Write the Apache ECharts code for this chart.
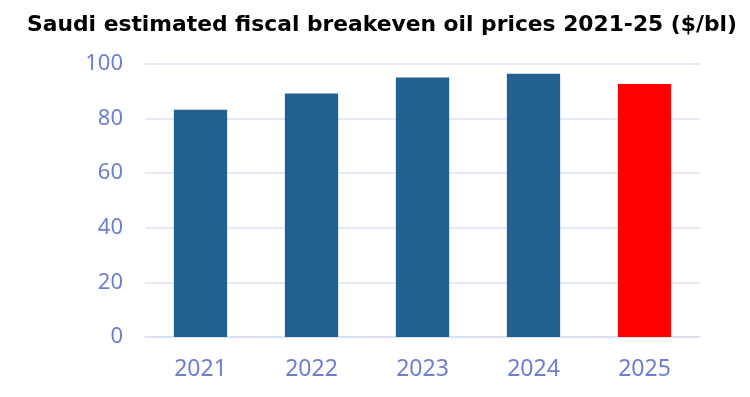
<!DOCTYPE html>
<html>
<head>
<meta charset="utf-8">
<script src="https://cdn.jsdelivr.net/npm/echarts@6/dist/echarts.min.js"></script>
<style>
  html, body { margin: 0; padding: 0; background: #fff; }
  #chart { width: 750px; height: 397px; }
</style>
</head>
<body>
<div id="chart"></div>
<script>
const years = ["2021", "2022", "2023", "2024", "2025"];
const breakeven = [83.2, 89.2, 95.1, 96.4, 92.7];
const barColors = ["#22618f", "#22618f", "#22618f", "#22618f", "#ff0000"];
const yTicks = [0, 20, 40, 60, 80, 100];

const labelColor = "#6f7fcf";
const chart = echarts.init(document.getElementById("chart"));
chart.setOption({
  title: {
    text: "Saudi estimated fiscal breakeven oil prices 2021-25 ($/bl)",
    left: 377,
    textAlign: "center",
    top: 9,
    textStyle: { fontFamily: "DejaVu Sans", fontWeight: "bold", fontSize: 21.8, color: "#000" }
  },
  grid: { left: 145, right: 50, top: 64, bottom: 60 },
  xAxis: {
    type: "category",
    data: years,
    axisLine: { lineStyle: { color: "#d9e0f2", width: 1.5 } },
    axisTick: { show: false },
    axisLabel: { color: labelColor, fontFamily: "Noto Sans", fontSize: 23, margin: 21 }
  },
  yAxis: {
    type: "value",
    min: yTicks[0],
    max: yTicks[yTicks.length - 1],
    interval: 20,
    axisLine: { show: false },
    axisTick: { show: false },
    splitLine: { lineStyle: { color: "#dde3f3", width: 1.5 } },
    axisLabel: { color: labelColor, fontFamily: "Noto Sans", fontSize: 22, margin: 22 }
  },
  series: [{
    type: "bar",
    barWidth: "48%",
    data: breakeven.map((v, i) => ({ value: v, itemStyle: { color: barColors[i] } }))
  }]
});
</script>
</body>
</html>
